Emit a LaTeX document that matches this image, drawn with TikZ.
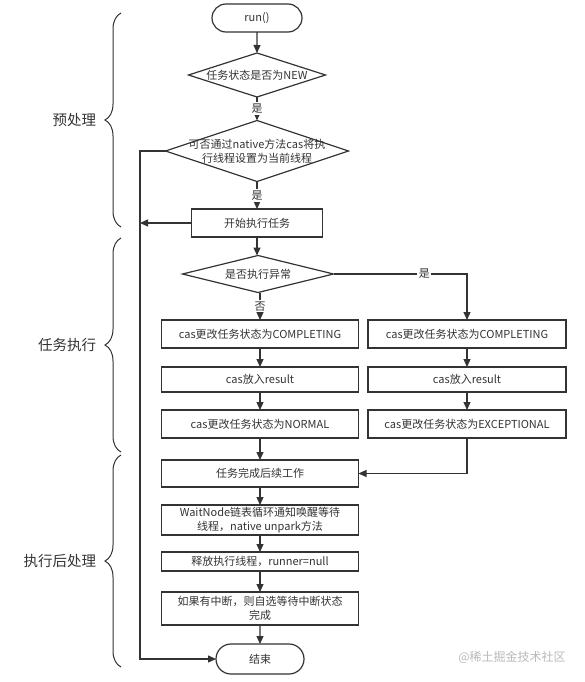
\documentclass[tikz,border=0pt]{standalone}
\usepackage{fontspec}
\setmainfont{Noto Sans CJK SC}
\usetikzlibrary{arrows.meta}
\usetikzlibrary{shapes.geometric}
\usetikzlibrary{shapes.misc}
\usetikzlibrary{decorations.pathreplacing}
\definecolor{ink}{HTML}{333333}
\newcommand{\colwidth}{197pt}
\newcommand{\boxfont}{\fontsize{11}{14}\selectfont}
\tikzstyle{flow}=[draw=ink, line width=1.2pt, inner sep=0, outer sep=0, font=\boxfont, text=ink, align=center]
\tikzstyle{proc}=[flow, rectangle, minimum width=\colwidth]
\tikzstyle{term}=[flow, rounded rectangle]
\tikzstyle{decision}=[flow, diamond]
\tikzstyle{dtext}=[font=\boxfont, text=ink, align=center, inner sep=0]
\tikzstyle{arr}=[draw=ink, line width=1.2pt, -{Triangle[length=8pt, width=7pt]}]
\tikzstyle{yesno}=[fill=white, inner sep=1.5pt, text=ink, font=\boxfont]
\tikzstyle{stage}=[draw=ink, line width=1pt, decorate, decoration={brace, amplitude=16pt}]
\tikzstyle{stagetext}=[anchor=east, xshift=-21pt, text=ink, font=\fontsize{14.5}{16}\selectfont]

\begin{document}
\begin{tikzpicture}[x=1pt, y=-1pt]
        \useasboundingbox (0, 0) rectangle (585, 682);
        % start and pre-checks
        \node[term, minimum width=90pt, minimum height=28pt] (run) at (257, 18) {run()};
        \node[decision, minimum width=137pt, minimum height=44pt,
              label={[dtext]center:任务状态是否为NEW}] (isnew) at (257, 75) {};
        \node[decision, minimum width=183pt, minimum height=61pt,
              label={[dtext]center:可否通过native方法cas将执\\行线程设置为当前线程}] (setrunner) at (257, 151) {};
        \node[proc, minimum width=131pt, minimum height=28pt] (begin) at (257, 223) {开始执行任务};
        % running the task
        \node[decision, minimum width=151pt, minimum height=37pt,
              label={[dtext]center:是否执行异常}] (failed) at (258, 274) {};
        \node[proc, minimum height=28pt] (L1) at (260, 334) {cas更改任务状态为COMPLETING};
        \node[proc, minimum height=25pt] (L2) at (260, 379.5) {cas放入result};
        \node[proc, minimum height=28pt] (L3) at (260, 424) {cas更改任务状态为NORMAL};
        \node[proc, minimum width=198pt, minimum height=28pt] (R1) at (467, 334) {cas更改任务状态为COMPLETING};
        \node[proc, minimum width=198pt, minimum height=25pt] (R2) at (467, 379.5) {cas放入result};
        \node[proc, minimum width=198pt, minimum height=28pt] (R3) at (467, 424) {cas更改任务状态为EXCEPTIONAL};
        % after the task
        \node[proc, minimum height=27pt] (finish) at (260, 473.5) {任务完成后续工作};
        \node[proc, minimum height=30pt] (wake) at (260, 520) {WaitNode链表循环通知唤醒等待\\线程，native unpark方法};
        \node[proc, minimum height=19pt] (release) at (260, 561.5) {释放执行线程，runner=null};
        \node[proc, minimum height=33pt] (interrupt) at (260, 608.5) {如果有中断，则自选等待中断状态\\完成};
        \node[term, minimum width=88pt, minimum height=30pt] (done) at (260, 659) {结束};
        \coordinate (loop) at (140, 151);

        \draw[arr] (run) -- (isnew);
        \draw[arr] (isnew) -- node[yesno] (yes1) {是} (setrunner);
        \draw[arr] (setrunner) -- node[yesno] (yes2) {是} (begin);
        \draw[arr] (begin.south) -- (begin.south |- failed.north);
        \draw[arr] (failed.south -| L1) -- node[yesno] (no3) {否} (L1);
        \draw[arr] (failed.east) -| node[yesno, pos=0.34] (yes3) {是} (R1.north);
        \draw[arr] (L1) -- (L2);
        \draw[arr] (L2) -- (L3);
        \draw[arr] (L3) -- (finish);
        \draw[arr] (R1) -- (R2);
        \draw[arr] (R2) -- (R3);
        \draw[arr] (R3.south) |- (finish.east);
        \draw[arr] (finish) -- (wake);
        \draw[arr] (wake) -- (release);
        \draw[arr] (release) -- (interrupt);
        \draw[arr] (interrupt) -- (done);
        \draw[arr] (setrunner.west) -- (loop) |- (done.west);
        \draw[arr] (begin.west) -- (begin.west -| loop);

        % stages
        \draw[stage] (121, 227) -- (121, 13) node[midway, stagetext] (pre) {预处理};
        \draw[stage] (121, 452) -- (121, 238) node[midway, stagetext] (exec) {任务执行};
        \draw[stage] (121, 667) -- (121, 455) node[midway, stagetext] (post) {执行后处理};

        \node[text=gray!55, font=\fontsize{12}{14}\selectfont] (mark) at (512, 657) {@稀土掘金技术社区};
    \end{tikzpicture}
\end{document}
